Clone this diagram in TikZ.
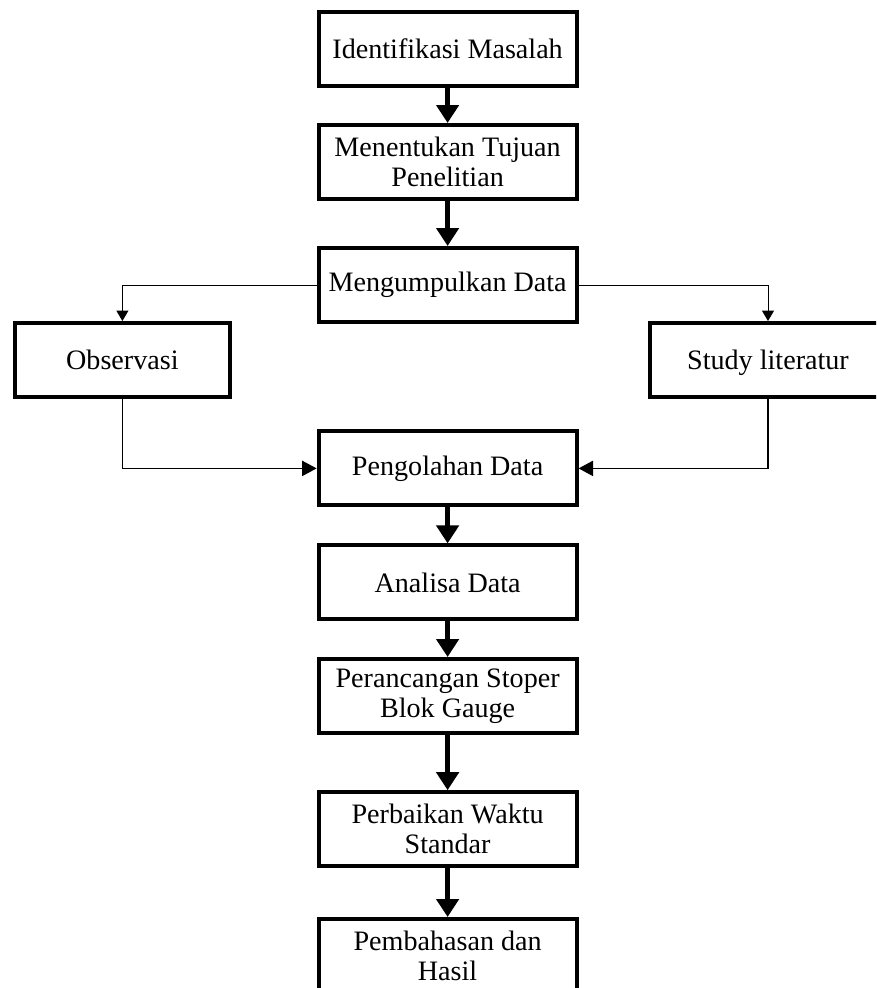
\documentclass[tikz,border=0pt]{standalone}
\usepackage{fontspec}
\setmainfont{Liberation Serif}
\usetikzlibrary{arrows.meta,positioning}
\definecolor{Ink}{HTML}{000000}

\begin{document}
\begin{tikzpicture}[
      node distance=9mm,
      box/.style={draw=Ink,line width=1mm,align=center,fill=white,
        minimum width=6.45cm,minimum height=1.85cm,
        font=\fontsize{20}{21.5}\selectfont},
      side/.style={box,text height=18pt,text depth=4.6pt},
      flow/.style={-{Triangle[length=4.5mm,width=5.5mm]},line width=1.2mm,color=Ink},
      split/.style={-{Triangle[length=2.6mm,width=3mm]},line width=0.6pt,color=Ink},
      merge/.style={-{Triangle[length=3.6mm,width=3.8mm]},line width=0.9pt,color=Ink}
    ]
      \useasboundingbox (0,0) rectangle (21.9,-24.7);
      \clip (0,0) rectangle (21.9,-24.7);
      \node[box] (masalah) at (11.19,-1.225) {Identifikasi Masalah};
      \node[box,below=0.875cm of masalah] (tujuan)
        {Menentukan Tujuan\\Penelitian};
      \node[box,below=1.125cm of tujuan] (kumpul) {Mengumpulkan Data};
      \node[side,minimum width=5.375cm] (observasi) at (3.06,-9.0) {Observasi};
      \node[side,minimum width=5.9cm] (studi) at (19.2,-9.0) {Study literatur};
      \node[box,below=2.635cm of kumpul] (olah) {Pengolahan Data};
      \node[box,below=0.9cm of olah] (analisa) {Analisa Data};
      \node[box,below=0.89cm of analisa] (rancang)
        {Perancangan Stoper\\Blok Gauge};
      \node[box,below=1.38cm of rancang] (waktu)
        {Perbaikan Waktu\\Standar};
      \node[box,below=1.22cm of waktu] (hasil)
        {Pembahasan dan\\Hasil};

      \draw[flow] (masalah) -- (tujuan);
      \draw[flow] (tujuan) -- (kumpul);
      \draw[split] (kumpul.west) -| (observasi.north);
      \draw[split] (kumpul.east) -| (studi.north);
      \draw[merge] (observasi.south) |- (olah.west);
      \draw[merge] (studi.south) |- (olah.east);
      \draw[flow] (olah) -- (analisa);
      \draw[flow] (analisa) -- (rancang);
      \draw[flow] (rancang) -- (waktu);
      \draw[flow] (waktu) -- (hasil);
    \end{tikzpicture}
\end{document}
